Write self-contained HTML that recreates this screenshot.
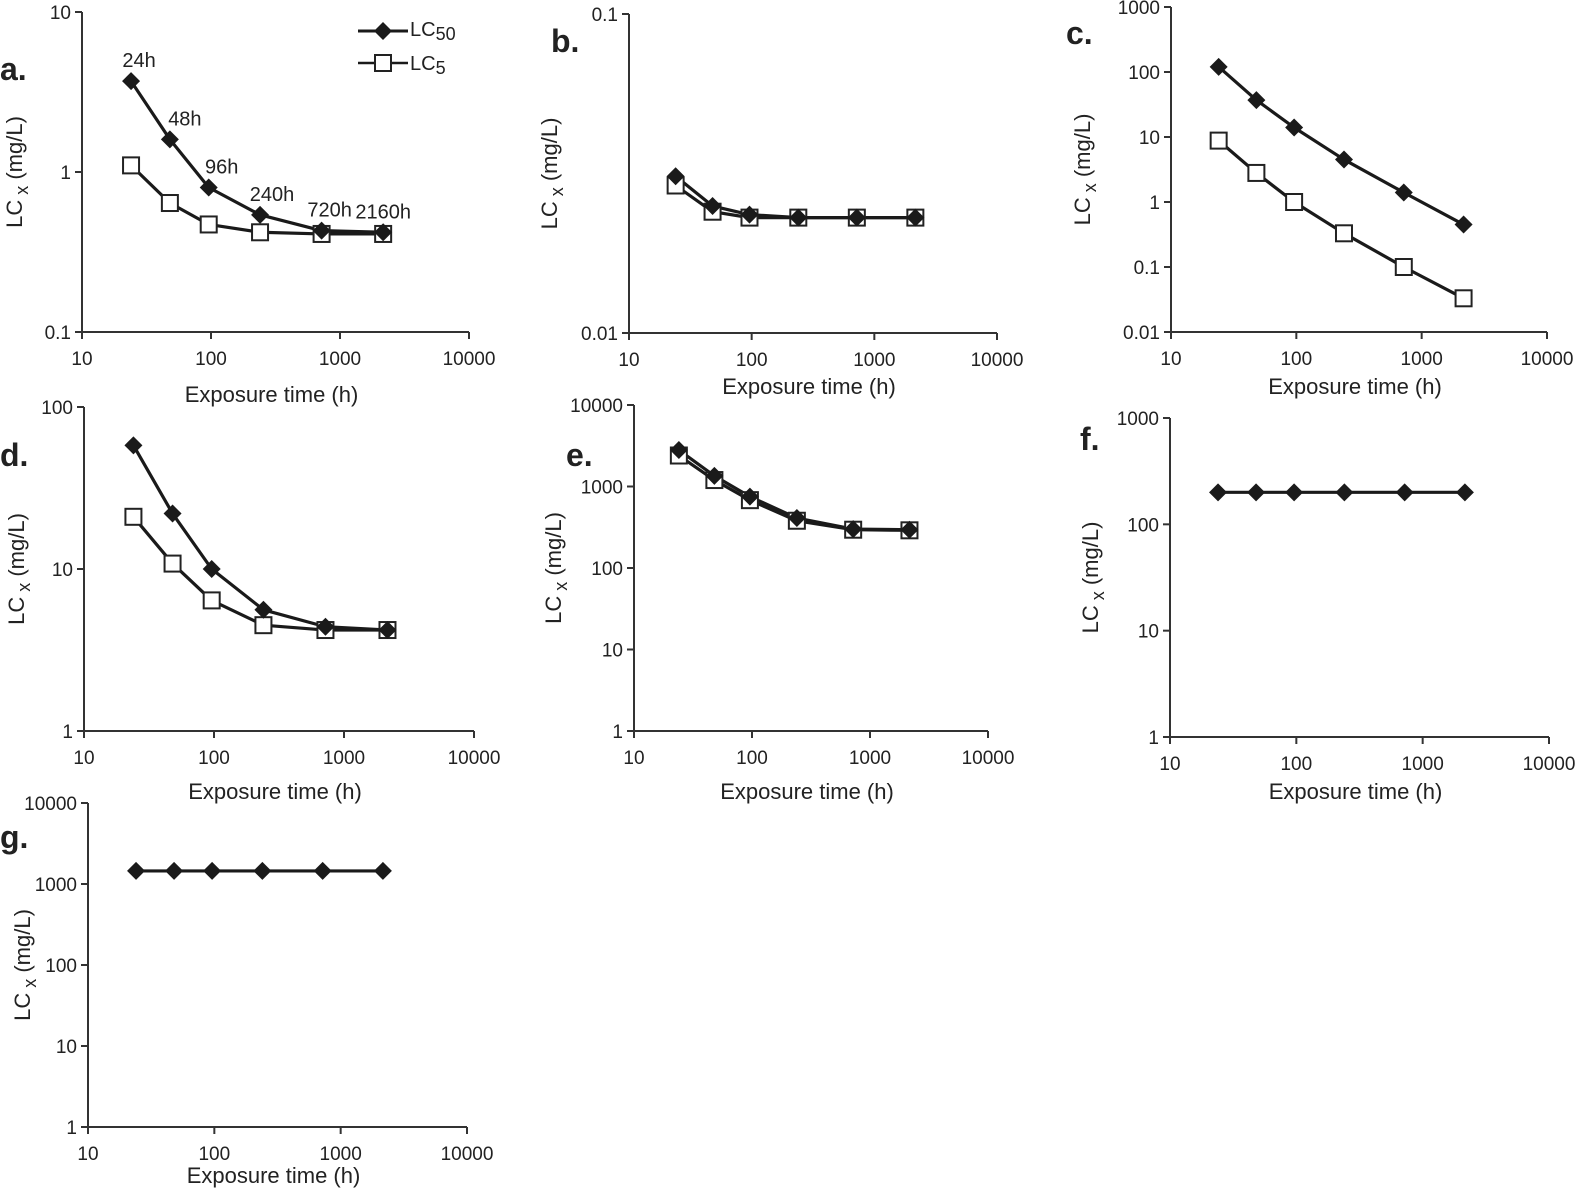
<!DOCTYPE html>
<html><head><meta charset="utf-8"><style>
html,body{margin:0;padding:0;background:#fff;}
svg{display:block;font-family:"Liberation Sans",sans-serif;}
</style></head><body>
<svg id="s" width="1575" height="1193" viewBox="0 0 1575 1193" xmlns="http://www.w3.org/2000/svg"></svg>
<script>
const S=document.getElementById('s');let h='';
const X=[24,48,96,240,720,2160];
const P=[
{id:'a',x0:82,x1:469,yt:12,yb:332,lmin:-1,lmax:1,yl:['0.1','1','10'],L50:[3.7,1.6,0.8,0.54,0.43,0.42],L5:[1.1,0.64,0.47,0.42,0.41,0.41],let:[0,80],ylx:22,xly:402},
{id:'b',x0:629,x1:997,yt:14,yb:333,lmin:-2,lmax:-1,yl:['0.01','0.1'],L50:[0.031,0.025,0.0235,0.023,0.023,0.023],L5:[0.029,0.024,0.023,0.023,0.023,0.023],let:[551,52],ylx:557,xly:394},
{id:'c',x0:1171,x1:1547,yt:7,yb:332,lmin:-2,lmax:3,yl:['0.01','0.1','1','10','100','1000'],L50:[120,37,14,4.5,1.4,0.45],L5:[8.8,2.8,1.0,0.33,0.10,0.033],let:[1066,44],ylx:1090,xly:394},
{id:'d',x0:84,x1:474,yt:407,yb:731,lmin:0,lmax:2,yl:['1','10','100'],L50:[58,22,10,5.6,4.4,4.2],L5:[21,10.8,6.4,4.5,4.2,4.2],let:[0,466],ylx:24,xly:799},
{id:'e',x0:634,x1:988,yt:405,yb:731,lmin:0,lmax:4,yl:['1','10','100','1000','10000'],L50:[2800,1350,750,410,300,295],L5:[2400,1200,680,380,295,290],let:[566,466],ylx:561,xly:799},
{id:'f',x0:1170,x1:1549,yt:418,yb:737,lmin:0,lmax:3,yl:['1','10','100','1000'],L50:[200,200,200,200,200,200],L5:null,let:[1080,450],ylx:1098,xly:799},
{id:'g',x0:88,x1:467,yt:803,yb:1127,lmin:0,lmax:4,yl:['1','10','100','1000','10000'],L50:[1450,1450,1450,1450,1450,1450],L5:null,let:[0,848],ylx:30,xly:1183}
];
function sq(x,y){return `<rect x="${x-8}" y="${y-8}" width="16" height="16" fill="#fff" stroke="#222" stroke-width="2"/>`;}
function dm(x,y){return `<polygon points="${x},${y-9} ${x+9},${y} ${x},${y+9} ${x-9},${y}" fill="#1a1a1a"/>`;}
for(const p of P){
 const fx=v=>p.x0+(Math.log10(v)-1)/3*(p.x1-p.x0);
 const fy=v=>p.yb-(Math.log10(v)-p.lmin)/(p.lmax-p.lmin)*(p.yb-p.yt);
 h+=`<path d="M${p.x0},${p.yt}V${p.yb}H${p.x1}" fill="none" stroke="#333" stroke-width="2"/>`;
 for(let i=0;i<4;i++){const x=p.x0+i*(p.x1-p.x0)/3;h+=`<line x1="${x}" y1="${p.yb}" x2="${x}" y2="${p.yb+7}" stroke="#333" stroke-width="2"/>`;
  h+=`<text x="${x}" y="${p.yb+33}" font-size="19" text-anchor="middle" fill="#222">${[10,100,1000,10000][i]}</text>`;}
 const n=p.yl.length;
 for(let i=0;i<n;i++){const y=p.yb-i*(p.yb-p.yt)/(n-1);h+=`<line x1="${p.x0-7}" y1="${y}" x2="${p.x0}" y2="${y}" stroke="#333" stroke-width="2"/>`;
  h+=`<text x="${p.x0-11}" y="${y+7}" font-size="19" text-anchor="end" fill="#222">${p.yl[i]}</text>`;}
 const cx=(p.x0+p.x1)/2, cy=(p.yt+p.yb)/2;
 h+=`<text x="${cx-4}" y="${p.xly}" font-size="22" text-anchor="middle" fill="#222">Exposure time (h)</text>`;
 h+=`<text transform="translate(${p.ylx},${cy}) rotate(-90)" font-size="22" text-anchor="middle" fill="#222">LC<tspan font-size="18" dy="6"> x</tspan><tspan dy="-6"> (mg/L)</tspan></text>`;
 h+=`<text x="${p.let[0]}" y="${p.let[1]}" font-size="32" font-weight="bold" fill="#222">${p.id}.</text>`;
 const line=a=>`<polyline points="${a.map((v,i)=>fx(X[i])+','+fy(v)).join(' ')}" fill="none" stroke="#1a1a1a" stroke-width="3.2" stroke-linejoin="round"/>`;
 if(p.L5){h+=line(p.L5);}
 h+=line(p.L50);
 if(p.L5){p.L5.forEach((v,i)=>h+=sq(fx(X[i]),fy(v)));}
 p.L50.forEach((v,i)=>h+=dm(fx(X[i]),fy(v)));
 if(p.id==='a'){
  const lb=['24h','48h','96h','240h','720h','2160h'];
  p.L50.forEach((v,i)=>{const x=fx(X[i]),y=fy(v);const dx=[8,15,13,12,8,0][i];h+=`<text x="${x+dx}" y="${y-14}" font-size="20" text-anchor="middle" fill="#222">${lb[i]}</text>`;});
  h+=`<line x1="358" y1="31" x2="408" y2="31" stroke="#1a1a1a" stroke-width="3"/>`+dm(383,31);
  h+=`<text x="410" y="36" font-size="20" fill="#222">LC<tspan font-size="18" dy="4">50</tspan></text>`;
  h+=`<line x1="358" y1="63" x2="408" y2="63" stroke="#1a1a1a" stroke-width="2.5"/>`+sq(383,63);
  h+=`<text x="410" y="70" font-size="20" fill="#222">LC<tspan font-size="18" dy="4">5</tspan></text>`;
 }
}
S.innerHTML=h;
</script>
</body></html>
